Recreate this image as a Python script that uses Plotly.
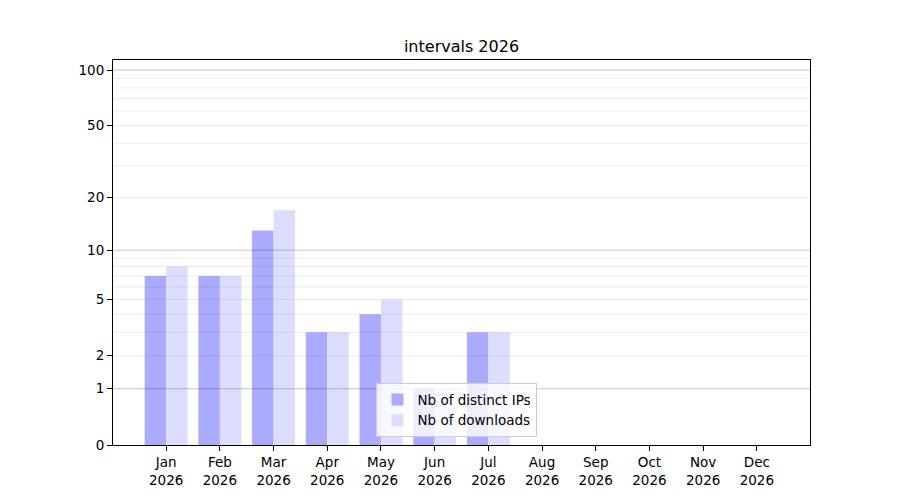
import numpy as np
import plotly.graph_objects as go

months = ["Jan", "Feb", "Mar", "Apr", "May", "Jun", "Jul", "Aug", "Sep", "Oct", "Nov", "Dec"]
year = "2026"
distinct_ips = [7, 7, 13, 3, 4, 1, 3, 0, 0, 0, 0, 0]
downloads = [8, 7, 17, 3, 5, 1, 3, 0, 0, 0, 0, 0]
y_ticks = [0, 1, 2, 5, 10, 20, 50, 100]
major_grid = [1, 10, 100]
minor_grid = [2, 3, 4, 5, 6, 7, 8, 9, 20, 30, 40, 50, 60, 70, 80, 90]


# y axis is log10(1 + v), like the original
def tr(v):
    return np.log10(1 + np.asarray(v, dtype=float))


x = np.arange(len(months))
labels = ["{}<br>{}".format(m, year) for m in months]

fig = go.Figure()
fig.add_trace(go.Bar(x=x, y=tr(distinct_ips), width=0.4, offset=-0.4,
                     marker=dict(color="rgb(170,170,255)", line_width=0),
                     name="Nb of distinct IPs"))
fig.add_trace(go.Bar(x=x, y=tr(downloads), width=0.4, offset=0,
                     marker=dict(color="rgb(221,221,255)", line_width=0),
                     name="Nb of downloads"))

# grid lines sit above the bars in the reference
for v in minor_grid:
    fig.add_shape(type="line", xref="paper", x0=0, x1=1, yref="y", y0=tr(v), y1=tr(v),
                  line=dict(color="rgba(0,0,0,0.08)", width=1), layer="above")
for v in major_grid:
    fig.add_shape(type="line", xref="paper", x0=0, x1=1, yref="y", y0=tr(v), y1=tr(v),
                  line=dict(color="rgba(0,0,0,0.22)", width=1), layer="above")

# page body has an 8px margin, so the figure is 892x492
fig.update_layout(
    width=892, height=492,
    margin=dict(l=105, r=90, t=52, b=55),
    paper_bgcolor="white", plot_bgcolor="white",
    font=dict(family="DejaVu Sans", size=13.5, color="black"),
    title=dict(text="intervals 2026", x=453.5 / 892, xanchor="center",
               y=1 - 38 / 492, yanchor="middle", font=dict(size=16)),
    barmode="overlay",
    showlegend=True,
    legend=dict(x=0.378, y=0.02, xanchor="left", yanchor="bottom",
                bgcolor="rgba(255,255,255,0.8)", bordercolor="#cccccc", borderwidth=1,
                font=dict(size=13.5), tracegroupgap=0),
)
fig.update_xaxes(range=[-0.99, 11.99], tickmode="array", tickvals=x, ticktext=labels,
                 showgrid=False, zeroline=False, showline=True, mirror=True,
                 linecolor="black", linewidth=1, ticks="outside", ticklen=5,
                 tickcolor="black")
fig.update_yaxes(range=[0, 2.058], tickmode="array", tickvals=tr(y_ticks),
                 ticktext=[str(t) for t in y_ticks],
                 showgrid=False, zeroline=False, showline=True, mirror=True,
                 linecolor="black", linewidth=1, ticks="outside", ticklen=5,
                 tickcolor="black")

fig.write_html("out.html")
